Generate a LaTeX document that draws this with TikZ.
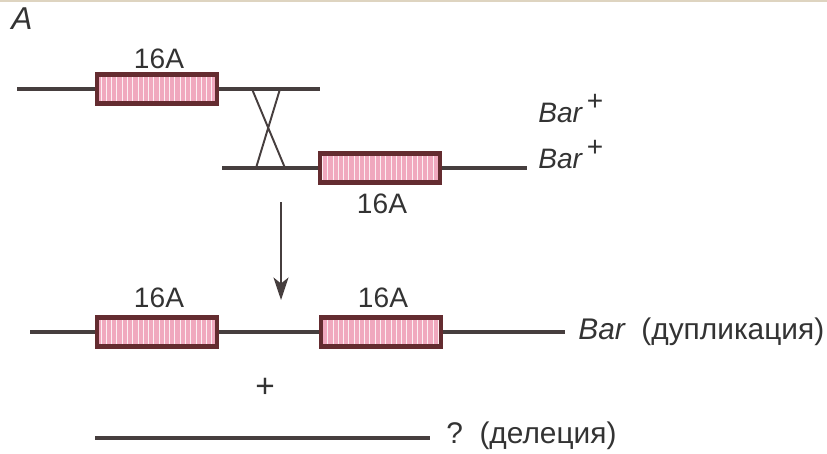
\documentclass[tikz,border=0pt]{standalone}
\usepackage{fontspec}
\setmainfont{Liberation Sans}
\usetikzlibrary{patterns}
\usetikzlibrary{arrows.meta}
\definecolor{boxpink}{RGB}{240,168,190}
\definecolor{boxrim}{RGB}{100,44,48}
\definecolor{strand}{RGB}{70,62,62}
\definecolor{scanedge}{RGB}{222,212,192}

\tikzset{
  gene/.style={draw=boxrim, line width=2.3pt, preaction={fill=boxpink},
    pattern=vertical lines, pattern color=white!80!boxpink,
    minimum width=2.4cm, minimum height=0.58cm, inner sep=0pt},
  dna/.style={draw=strand, line width=1.8pt},
  lbl/.style={font=\fontsize{16}{18}\selectfont, text=black!80, inner sep=0pt},
  note/.style={lbl, font=\fontsize{17}{19}\selectfont},
}

\begin{document}
\begin{tikzpicture}[x=0.02cm, y=-0.02cm]
  \path[use as bounding box] (0,0) rectangle (827,453);
  \draw[scanedge, line width=1.5pt] (0,1) -- (827,1);

  \node[lbl, anchor=west, font=\fontsize{18}{20}\selectfont] (tag) at (11,19) {\itshape A};

  % two homologous strands before the exchange
  \node[gene] (g1) at (157,89) {};
  \node[lbl] (g1lab) at (159,59) {16A};
  \coordinate (s1l) at (17,89);
  \coordinate (s1r) at (320,89);
  \draw[dna] (s1l) -- (g1) -- (s1r);

  \node[gene] (g2) at (380,168) {};
  \node[lbl] (g2lab) at (382,204) {16A};
  \coordinate (s2l) at (222,168);
  \coordinate (s2r) at (527,168);
  \draw[dna] (s2l) -- (g2) -- (s2r);

  \node[lbl, anchor=base west] (bar1) at (538,122) {\itshape Bar\,\raisebox{0.75ex}{\upshape +}};
  \node[lbl, anchor=base west] (bar2) at (538,168) {\itshape Bar\,\raisebox{0.75ex}{\upshape +}};

  % unequal crossing over
  \coordinate (xa) at (252,89);
  \coordinate (xb) at (285,168);
  \coordinate (xc) at (280,89);
  \coordinate (xd) at (256,168);
  \draw[strand, line width=1.1pt] (xa) -- (xb) (xc) -- (xd);

  \coordinate (arrtop) at (281,202);
  \coordinate (arrbot) at (281,300);
  \draw[strand, line width=1.2pt, -{Stealth[length=0.45cm, width=0.3cm, inset=0.12cm]}] (arrtop) -- (arrbot);

  % duplication product
  \node[gene] (g3) at (157,332) {};
  \node[lbl] (g3lab) at (159,298) {16A};
  \node[gene] (g4) at (381,332) {};
  \node[lbl] (g4lab) at (383,298) {16A};
  \coordinate (s3l) at (30,332);
  \coordinate (s3r) at (565,332);
  \draw[dna] (s3l) -- (g3) -- (g4) -- (s3r);
  \node[note, anchor=west] (dup) at (578,332) {\itshape Bar\upshape\ \ (дупликация)};

  \node[lbl, font=\fontsize{19}{20}\selectfont] (plus) at (265,388) {+};

  % deletion product
  \coordinate (s4l) at (95,438);
  \coordinate (s4r) at (430,438);
  \draw[dna] (s4l) -- (s4r);
  \node[note, anchor=west] (del) at (446,436) {?\ \ (делеция)};
\end{tikzpicture}
\end{document}
